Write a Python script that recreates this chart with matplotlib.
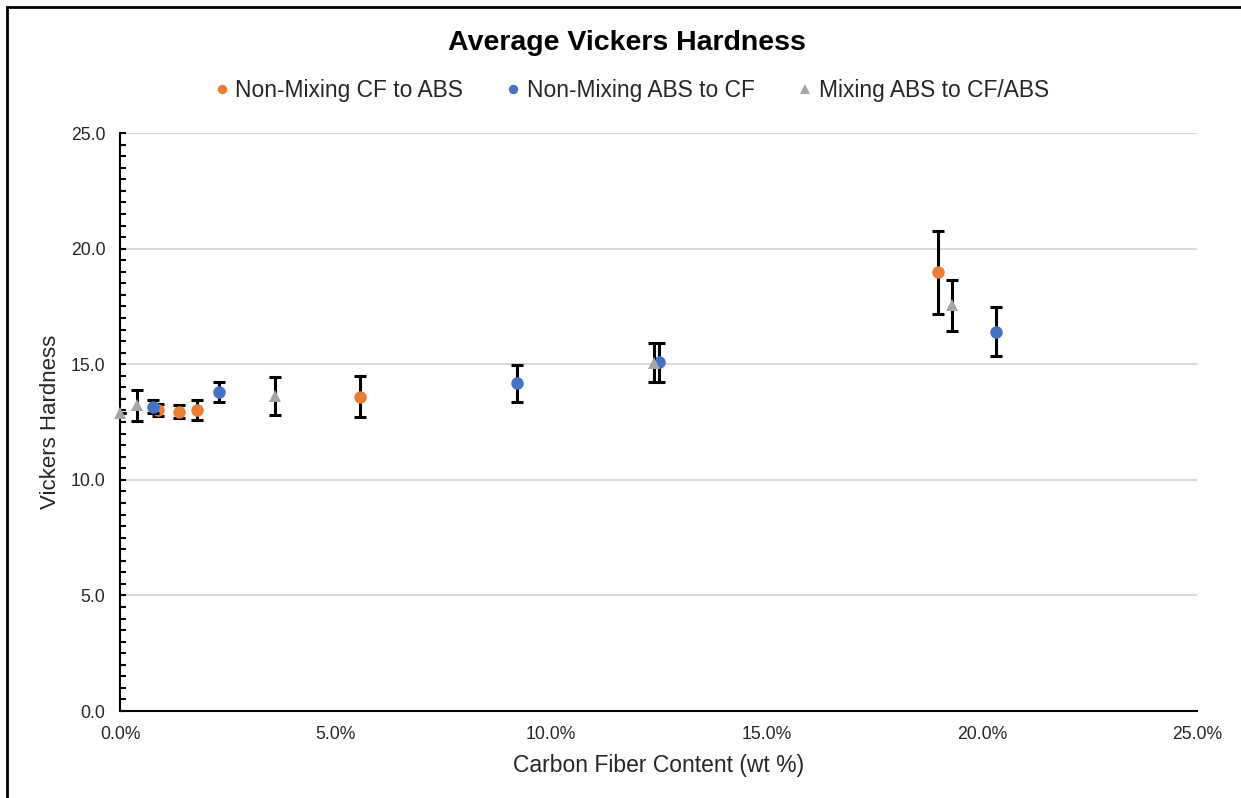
import matplotlib
matplotlib.use('Agg')
import matplotlib.pyplot as plt
from matplotlib.ticker import PercentFormatter, MultipleLocator, FormatStrFormatter
from matplotlib.patches import Rectangle

plt.rcParams['font.family'] = ['Liberation Sans', 'DejaVu Sans']

# carbon fiber fraction (wt), mean hardness, +/- error for each series
cf_abs_x = [0.0088, 0.0137, 0.0179, 0.0557, 0.1899]
cf_abs_y = [13.02, 12.95, 13.02, 13.60, 18.97]
cf_abs_err = [0.25, 0.28, 0.42, 0.90, 1.78]

abs_cf_x = [0.0077, 0.0230, 0.0921, 0.1252, 0.2033]
abs_cf_y = [13.16, 13.81, 14.17, 15.08, 16.41]
abs_cf_err = [0.28, 0.43, 0.80, 0.85, 1.07]

mix_x = [0.0000, 0.0039, 0.0360, 0.1240, 0.1930]
mix_y = [12.90, 13.22, 13.62, 15.06, 17.55]
mix_err = [0.00, 0.67, 0.82, 0.85, 1.10]

series_names = ['Non-Mixing CF to ABS', 'Non-Mixing ABS to CF', 'Mixing ABS to CF/ABS']
series_colors = ['#ed7d31', '#4472c4', '#a5a5a5']
series_markers = ['o', 'o', '^']

fig = plt.figure(figsize=(12.41, 7.98), dpi=100)
ax = fig.add_axes([0.0967, 0.109, 0.868, 0.7243])

data = [(cf_abs_x, cf_abs_y, cf_abs_err),
        (abs_cf_x, abs_cf_y, abs_cf_err),
        (mix_x, mix_y, mix_err)]

for i, (xs, ys, errs) in enumerate(data):
    ax.errorbar(xs, ys, yerr=errs, fmt='none', ecolor='black', elinewidth=2.2,
                capsize=4.3, capthick=2.2, zorder=3 + i)
    ax.plot(xs, ys, linestyle='none', marker=series_markers[i], markersize=9,
            color=series_colors[i], markeredgewidth=0, label=series_names[i],
            zorder=3.5 + i, clip_on=False)

ax.set_xlim(0, 0.25)
ax.set_ylim(0, 25)
ax.xaxis.set_major_locator(MultipleLocator(0.05))
ax.xaxis.set_major_formatter(PercentFormatter(1.0, decimals=1))
ax.yaxis.set_major_locator(MultipleLocator(5))
ax.yaxis.set_minor_locator(MultipleLocator(0.5))
ax.yaxis.set_major_formatter(FormatStrFormatter('%.1f'))

ax.grid(axis='y', which='major', color='#d9d9d9', linewidth=1.5, zorder=0)
ax.set_axisbelow(True)
for side in ['top', 'right']:
    ax.spines[side].set_visible(False)
for side in ['left', 'bottom']:
    ax.spines[side].set_linewidth(1.5)
    ax.spines[side].set_color('black')

ax.tick_params(axis='x', length=0, labelsize=12.7, pad=11, labelcolor='#262626')
ax.tick_params(axis='y', which='both', direction='in', length=4, width=1.5,
               labelsize=12.7, pad=10.5, labelcolor='#262626')

ax.set_xlabel('Carbon Fiber Content (wt %)', fontsize=16.5, color='#262626', labelpad=8)
ax.set_ylabel('Vickers Hardness', fontsize=16, color='#262626', labelpad=7)

fig.text(0.505, 0.946, 'Average Vickers Hardness', ha='center', va='center',
         fontsize=20.5, fontweight='bold', color='black')

handles, labels = ax.get_legend_handles_labels()
fig.legend(handles, labels, loc='center', bbox_to_anchor=(0.509, 0.886), ncol=3,
           frameon=False, fontsize=16.4, markerscale=0.75, handlelength=0.6,
           handletextpad=0.3, columnspacing=1.9, labelcolor='#262626')

# outer chart border
fig.patches.append(Rectangle((7 / 1241, -0.05), 1.1, 1 - 7 / 798 + 0.05,
                             transform=fig.transFigure, fill=False,
                             edgecolor='black', linewidth=2.0))

fig.savefig('out.png', dpi=100)
